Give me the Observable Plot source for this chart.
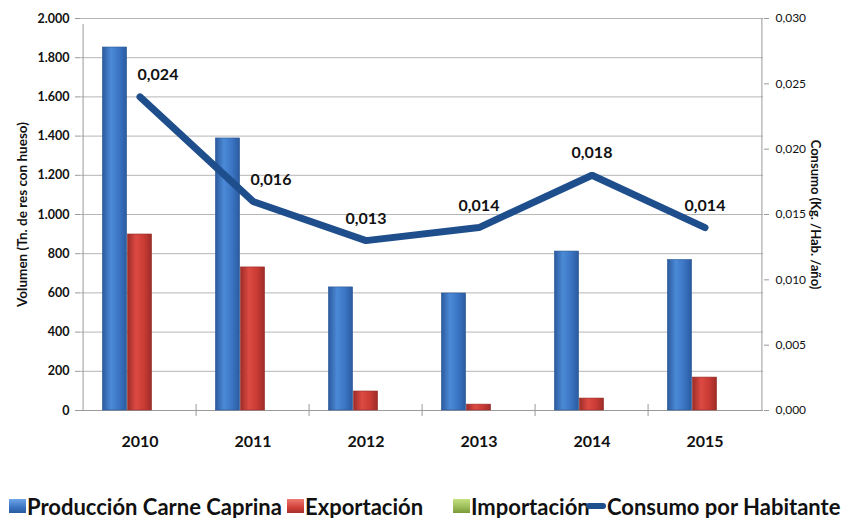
<!DOCTYPE html>
<html>
<head>
<meta charset="utf-8">
<script src="https://cdn.jsdelivr.net/npm/d3@7"></script>
<script src="https://cdn.jsdelivr.net/npm/@observablehq/plot@0.6"></script>
<style>
  html, body { margin: 0; padding: 0; background: #fff; }
  body { width: 852px; height: 518px; overflow: hidden; font-family: Lato, "Open Sans", sans-serif; position: relative; }
  #chart { position: absolute; left: 0; top: 0; }
  #legend { position: absolute; left: 0; top: 494px; width: 852px; height: 24px; font-weight: bold; font-size: 22px; color: #111; white-space: nowrap; }
  .item { position: absolute; top: 0; display: inline-flex; align-items: center; height: 24px; }
  .sw { display: inline-block; width: 17px; height: 14px; margin-right: 1px; }
  .ln { display: inline-block; width: 20px; height: 6px; border-radius: 3px; background: #1f4e8c; margin-right: 1px; }
</style>
</head>
<body>
<div id="chart"></div>
<div id="legend"></div>
<script>
// ---- data ----
const years = ["2010", "2011", "2012", "2013", "2014", "2015"];
const produccion = [1852, 1388, 628, 597, 811, 768];
const exportacion = [898, 730, 97, 30, 61, 168];
const importacion = [0, 0, 0, 0, 0, 0];
const consumo = [0.024, 0.016, 0.013, 0.014, 0.018, 0.014];
const leftTicks = [0, 200, 400, 600, 800, 1000, 1200, 1400, 1600, 1800, 2000];
const rightTicks = [0, 0.005, 0.010, 0.015, 0.020, 0.025, 0.030];
const seriesNames = ["Producción Carne Caprina", "Exportación", "Importación", "Consumo por Habitante"];
const leftTitle = "Volumen (Tn. de res con hueso)";
const rightTitle = "Consumo (Kg. /Hab. /año)";

// ---- layout ----
const W = 852, H = 470, ML = 80, MR = 89, MT = 18, MB = 60;
const bw = (W - ML - MR) / years.length;
const barW = 25;
const gL = (bw - 3 * barW) / 2;
const yMax = 2000, cMax = 0.030, k = yMax / cMax;
const legendLefts = [9, 287, 453, 586];

const rows = years.map((y, i) => ({year: y, prod: produccion[i], exp: exportacion[i], imp: importacion[i], cons: consumo[i], consY: consumo[i] * k}));

const loc = d3.formatLocale({decimal: ",", thousands: ".", grouping: [3], currency: ["", ""]});
const fmtLeft = loc.format(",");
const fmtRight = loc.format(".3f");

const gridC = "#b5b5b5", axisC = "#9a9a9a";

const plot = Plot.plot({
  width: W, height: H,
  marginLeft: ML, marginRight: MR, marginTop: MT, marginBottom: MB,
  style: {background: "#fff", fontFamily: "Lato, sans-serif", overflow: "visible"},
  x: {type: "band", domain: years, padding: 0, axis: null},
  y: {domain: [0, yMax], axis: null},
  marks: [
    Plot.gridY(leftTicks, {stroke: gridC, strokeOpacity: 1}),
    // left and right axis lines
    Plot.ruleX([years[0]], {x: d => d, dx: -bw / 2, y1: 0, y2: yMax, stroke: axisC, insetBottom: -6}),
    Plot.ruleX([years[years.length - 1]], {x: d => d, dx: bw / 2, y1: 0, y2: yMax, stroke: axisC}),
    // category boundary ticks
    Plot.ruleX(years.slice(1), {x: d => d, dx: -bw / 2, y1: 0, y2: 0, stroke: axisC, insetBottom: -6, insetTop: -6}),
    Plot.ruleY([0], {stroke: axisC}),
    // left axis
    Plot.axisY(leftTicks, {anchor: "left", tickSize: 5, tickPadding: 6, stroke: axisC, tickFormat: fmtLeft, fontSize: 12.5, fontWeight: "bold", fill: "#111", label: null}),
    // right axis
    Plot.axisY(rightTicks.map(d => d * k), {anchor: "right", tickSize: 5, tickPadding: 7, stroke: axisC, tickFormat: v => fmtRight(v / k), fontSize: 12, fill: "#111", label: null}),
    // bars
    Plot.barY(rows, {x: "year", y: "prod", insetLeft: gL, insetRight: bw - gL - barW, fill: "url(#gBlue)", stroke: "#2a5896", strokeWidth: 0.6}),
    Plot.barY(rows, {x: "year", y: "exp", insetLeft: gL + barW, insetRight: gL + barW, fill: "url(#gRed)", stroke: "#96302c", strokeWidth: 0.6}),
    Plot.barY(rows, {x: "year", y: "imp", insetLeft: gL + 2 * barW, insetRight: gL, fill: "url(#gGreen)"}),
    // line
    Plot.line(rows, {x: "year", y: "consY", stroke: "#1f4e8c", strokeWidth: 7, strokeLinejoin: "miter", strokeLinecap: "round"}),
    Plot.text(rows.slice(0, 2), {x: "year", y: "consY", text: d => fmtRight(d.cons), dy: -22, dx: 18, fontSize: 16, fontWeight: "bold", fill: "#111"}),
    Plot.text(rows.slice(2), {x: "year", y: "consY", text: d => fmtRight(d.cons), dy: -22, fontSize: 16, fontWeight: "bold", fill: "#111"}),
    // x labels
    Plot.text(years, {x: d => d, y: 0, dy: 31, text: d => d, fontSize: 16, fontWeight: "bold", fill: "#111"}),
    // axis titles
    Plot.text([leftTitle], {frameAnchor: "left", textAnchor: "middle", dx: -58, rotate: -90, text: d => d, fontSize: 13.5, fontWeight: "bold", fill: "#111"}),
    Plot.text([rightTitle], {frameAnchor: "right", textAnchor: "middle", dx: 52, rotate: 90, text: d => d, fontSize: 13, fontWeight: "bold", fill: "#111"})
  ]
});

// gradients for the 3D-looking bars
const defs = d3.select(plot).insert("defs", ":first-child");
function grad(id, edge, mid, light) {
  const g = defs.append("linearGradient").attr("id", id).attr("x1", "0").attr("x2", "1").attr("y1", "0").attr("y2", "0");
  g.append("stop").attr("offset", "0%").attr("stop-color", edge);
  g.append("stop").attr("offset", "35%").attr("stop-color", light);
  g.append("stop").attr("offset", "70%").attr("stop-color", mid);
  g.append("stop").attr("offset", "100%").attr("stop-color", edge);
}
grad("gBlue", "#2b5a9e", "#3a74c2", "#4b8ad6");
grad("gRed", "#9c2c28", "#c93a34", "#dc4a43");
grad("gGreen", "#7a9a3a", "#94b84c", "#a8cc5c");
document.getElementById("chart").appendChild(plot);

// legend
const legendColors = [
  "linear-gradient(to bottom, #6ea6e8, #3a74c2 60%, #2b5a9e)",
  "linear-gradient(to bottom, #ee7a72, #d0403a 60%, #a8302b)",
  "linear-gradient(to bottom, #c4e07e, #9bbb59 60%, #7a9a3a)"
];
const leg = d3.select("#legend");
seriesNames.forEach((name, i) => {
  const it = leg.append("span").attr("class", "item").style("left", legendLefts[i] + "px");
  if (i < 3) it.append("span").attr("class", "sw").style("background", legendColors[i]);
  else it.append("span").attr("class", "ln");
  it.append("span").text(name);
});
</script>
</body>
</html>
